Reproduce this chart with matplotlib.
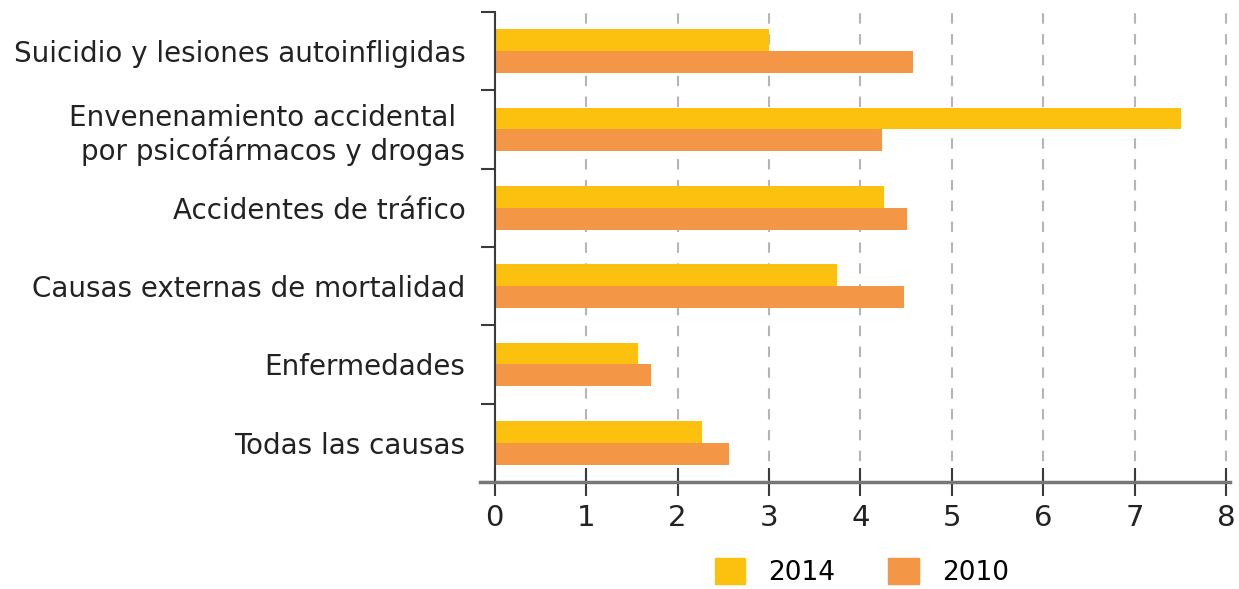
import matplotlib
matplotlib.use("Agg")
import matplotlib.pyplot as plt
import numpy as np
from matplotlib.patches import Patch

categories = [
    "Suicidio y lesiones autoinfligidas",
    "Envenenamiento accidental \npor psicofármacos y drogas",
    "Accidentes de tráfico",
    "Causas externas de mortalidad",
    "Enfermedades",
    "Todas las causas",
]
v2014 = [3.0, 7.5, 4.26, 3.74, 1.57, 2.27]
v2010 = [4.57, 4.23, 4.51, 4.48, 1.71, 2.56]
years = ["2014", "2010"]
xticks = [0, 1, 2, 3, 4, 5, 6, 7, 8]

C14 = "#fcc10f"
C10 = "#f39646"
DARK = "#3a3a3a"

plt.rcParams["font.family"] = ["DejaVu Sans"]

fig = plt.figure(figsize=(12.39, 5.89), dpi=100)
ax = fig.add_axes([480 / 1239, 1 - 482 / 589, (1230 - 480) / 1239, (482 - 12) / 589])

y = np.arange(len(categories))
h = 0.28
ax.barh(y - h / 2, v2014, height=h, color=C14, zorder=2)
ax.barh(y + h / 2, v2010, height=h, color=C10, zorder=2)

ax.set_ylim(len(categories) - 0.5, -0.5)
ax.set_xlim(-0.16, 8.04)

ax.set_yticks(y, categories, linespacing=1.05)
ax.tick_params(axis="y", which="major", length=0, pad=21, labelsize=20,
               labelcolor="#222")
ax.set_yticks(np.arange(-0.5, len(categories)), minor=True)
ax.tick_params(axis="y", which="minor", length=10, width=1.5, color=DARK)

ax.set_xticks(xticks, [str(v) for v in xticks])
ax.tick_params(axis="x", direction="inout", length=20, width=1.5, color=DARK,
               pad=6, labelsize=21, labelcolor="#222")

for v in xticks[1:]:
    ax.axvline(v, color="#b5b5b5", lw=1.5, ls=(0, (5, 5)), zorder=1)

for s in ["top", "right"]:
    ax.spines[s].set_visible(False)
ax.spines["left"].set_position(("data", 0))
ax.spines["left"].set_color(DARK)
ax.spines["left"].set_linewidth(1.5)
ax.spines["bottom"].set_color("#777")
ax.spines["bottom"].set_linewidth(2.5)

handles = [Patch(color=C14), Patch(color=C10)]
fig.legend(handles, years, loc="lower center", bbox_to_anchor=(862 / 1239, -0.035),
           ncol=2, frameon=False, fontsize=19, handlelength=1.15, handleheight=1.15,
           columnspacing=2.0, handletextpad=0.9)

fig.savefig("out.png", dpi=100)
